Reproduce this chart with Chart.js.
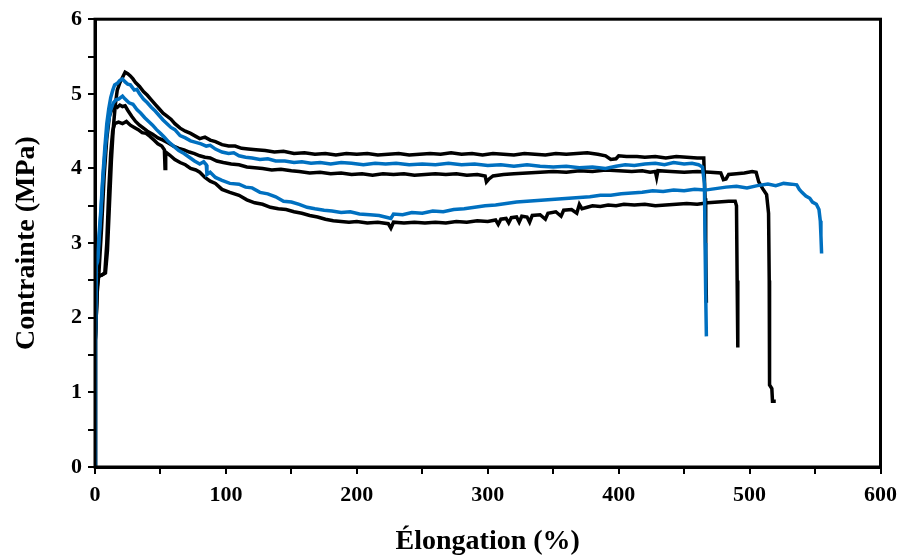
<!DOCTYPE html>
<html>
<head>
<meta charset="utf-8">
<script src="https://cdn.jsdelivr.net/npm/chart.js@4"></script>
<style>
  html, body { margin: 0; padding: 0; background: #fff; }
  #wrap { width: 905px; height: 556px; }
</style>
</head>
<body>
<div id="wrap"><canvas id="courbes" width="905" height="556"></canvas></div>
<script>
// [elongation %, contrainte MPa]
const noirHaut = [[0,0],[0.3,1.7],[2,2.55],[5,2.57],[8,2.6],[9.5,2.9],[11,3.5],[12.5,4.1],[14,4.55],[15.5,4.85],[17,5.05],[19,5.15],[21,5.22],[23,5.29],[25,5.27],[27,5.24],[29,5.2],[31,5.15],[34,5.1],[37,5.03],[40,4.98],[43,4.92],[46,4.86],[49,4.8],[52,4.74],[55,4.7],[58,4.66],[61,4.6],[65,4.54],[69,4.5],[73,4.47],[77,4.43],[80,4.4],[84,4.42],[88,4.38],[92,4.36],[97,4.32],[102,4.3],[107,4.3],[112,4.27],[117,4.26],[123,4.25],[130,4.24],[137,4.22],[144,4.23],[152,4.2],[160,4.21],[168,4.19],[176,4.2],[184,4.18],[192,4.2],[200,4.19],[208,4.2],[216,4.18],[224,4.19],[232,4.2],[240,4.18],[248,4.19],[256,4.2],[264,4.19],[272,4.21],[280,4.19],[288,4.2],[296,4.18],[304,4.2],[312,4.19],[320,4.18],[328,4.2],[336,4.19],[344,4.18],[352,4.2],[360,4.19],[368,4.2],[376,4.21],[384,4.19],[390,4.17],[394,4.12],[398,4.13],[400,4.17],[406,4.16],[414,4.16],[420,4.15],[428,4.16],[436,4.14],[444,4.16],[452,4.15],[460,4.14],[465,4.14],[466,3.6],[466.5,2.9],[467,2.2]];

const noirMilieu = [[0,0],[0.3,1.7],[1.5,2.3],[3,2.6],[5,3.2],[7,3.9],[9,4.4],[11,4.7],[13,4.8],[15,4.84],[17,4.82],[19,4.85],[21,4.83],[23,4.84],[25,4.78],[28,4.7],[31,4.63],[34,4.58],[37,4.54],[40,4.5],[44,4.46],[48,4.41],[52,4.38],[56,4.34],[60,4.3],[64,4.27],[68,4.25],[72,4.22],[76,4.2],[80,4.17],[84,4.15],[88,4.14],[93,4.1],[98,4.08],[104,4.06],[110,4.05],[116,4.02],[122,4.01],[128,4.0],[135,3.98],[142,3.99],[150,3.97],[156,3.96],[164,3.94],[172,3.95],[180,3.93],[188,3.94],[196,3.92],[204,3.93],[212,3.91],[220,3.93],[228,3.92],[236,3.93],[244,3.91],[252,3.92],[260,3.93],[268,3.92],[276,3.93],[284,3.91],[292,3.92],[298,3.9],[299,3.82],[301,3.86],[304,3.9],[312,3.92],[320,3.93],[330,3.94],[340,3.95],[350,3.96],[360,3.95],[370,3.97],[380,3.96],[390,3.98],[400,3.97],[410,3.96],[418,3.97],[424,3.95],[428,3.96],[429,3.88],[430,3.97],[440,3.96],[450,3.95],[460,3.96],[470,3.95],[478,3.94],[480,3.85],[482,3.86],[484,3.92],[490,3.93],[496,3.94],[502,3.96],[505,3.95],[507,3.82],[510,3.73],[513,3.65],[514.5,3.4],[515,2.5],[515,1.6],[515.5,1.1],[517,1.05],[517.5,0.88],[520,0.88]];

const noirBas = [[0,0],[0.3,1.7],[2,2.55],[5,2.57],[7.5,2.6],[9,3.0],[10.5,3.7],[12,4.2],[13.5,4.5],[15,4.6],[18,4.62],[21,4.6],[24,4.63],[27,4.58],[30,4.55],[33,4.52],[36,4.48],[39,4.47],[42,4.43],[45,4.38],[48,4.33],[51,4.3],[53,4.25],[53.5,4.0],[54,4.22],[57,4.18],[61,4.12],[65,4.08],[69,4.05],[73,4.0],[77,3.98],[80,3.95],[84,3.88],[88,3.83],[92,3.8],[97,3.72],[103,3.68],[110,3.64],[116,3.58],[122,3.54],[128,3.52],[134,3.48],[140,3.46],[146,3.45],[152,3.42],[158,3.4],[164,3.37],[170,3.35],[176,3.32],[182,3.3],[188,3.29],[194,3.28],[200,3.29],[208,3.27],[216,3.28],[224,3.26],[226,3.2],[228,3.28],[236,3.27],[244,3.28],[252,3.27],[260,3.28],[268,3.27],[276,3.29],[284,3.28],[292,3.3],[300,3.29],[306,3.31],[308,3.25],[310,3.32],[314,3.33],[316,3.27],[318,3.34],[322,3.35],[324,3.28],[326,3.36],[330,3.35],[332,3.28],[334,3.37],[340,3.38],[344,3.32],[346,3.4],[352,3.42],[356,3.36],[358,3.44],[364,3.45],[368,3.4],[370,3.52],[372,3.46],[376,3.48],[380,3.5],[386,3.49],[392,3.51],[398,3.5],[404,3.52],[412,3.51],[420,3.52],[428,3.5],[436,3.51],[444,3.52],[452,3.53],[460,3.52],[468,3.54],[476,3.55],[484,3.56],[489,3.56],[490,3.5],[490.5,2.5],[491,1.6]];

const bleuHaut = [[0,0],[0.3,1.7],[1,2.77],[2,2.8],[3,3.1],[4.5,3.45],[6,3.9],[7.6,4.3],[9,4.6],[10.5,4.8],[12,4.95],[13.6,5.05],[15,5.12],[17,5.14],[19,5.18],[21,5.2],[23,5.16],[25,5.13],[27,5.12],[30,5.05],[32,5.06],[34,5.0],[37,4.93],[40,4.88],[43,4.82],[46,4.77],[49,4.71],[52,4.65],[55,4.6],[58,4.55],[61,4.52],[65,4.44],[69,4.41],[73,4.37],[77,4.35],[81,4.33],[85,4.3],[88,4.31],[92,4.26],[97,4.22],[102,4.2],[106,4.21],[110,4.17],[115,4.15],[120,4.14],[126,4.12],[132,4.13],[138,4.1],[145,4.1],[152,4.08],[158,4.09],[165,4.07],[172,4.08],[180,4.06],[188,4.08],[196,4.07],[205,4.05],[214,4.07],[222,4.06],[230,4.07],[240,4.05],[250,4.06],[260,4.05],[270,4.07],[280,4.05],[290,4.06],[300,4.04],[310,4.05],[320,4.03],[330,4.05],[340,4.03],[350,4.02],[360,4.03],[370,4.01],[380,4.02],[390,4.0],[398,4.03],[405,4.05],[412,4.04],[420,4.06],[428,4.07],[435,4.05],[442,4.08],[450,4.06],[456,4.07],[461,4.05],[464,4.02],[465.5,3.8],[466,3.0],[466.5,2.3],[467,1.75]];

const bleuBas = [[0,0],[0.3,1.7],[1,2.7],[2,2.75],[3,3.0],[4.5,3.4],[6,3.85],[8,4.3],[10,4.6],[12,4.78],[14,4.88],[16,4.92],[18,4.93],[21,4.97],[23,4.93],[26,4.88],[29,4.86],[32,4.79],[35,4.74],[38,4.68],[41,4.63],[44,4.58],[47,4.52],[50,4.47],[53,4.42],[56,4.36],[60,4.3],[64,4.24],[68,4.2],[72,4.15],[76,4.1],[80,4.06],[83,4.09],[85,4.05],[85.5,3.92],[88,3.95],[92,3.88],[97,3.84],[103,3.8],[110,3.79],[115,3.75],[120,3.74],[126,3.68],[132,3.66],[138,3.62],[144,3.56],[150,3.55],[156,3.52],[162,3.48],[168,3.46],[175,3.44],[181,3.43],[188,3.41],[195,3.42],[202,3.39],[210,3.38],[217,3.37],[224,3.34],[226,3.33],[228,3.39],[235,3.38],[242,3.41],[250,3.4],[258,3.43],[266,3.42],[274,3.45],[282,3.46],[290,3.48],[298,3.5],[306,3.51],[314,3.53],[322,3.55],[330,3.56],[338,3.57],[346,3.58],[354,3.59],[362,3.6],[370,3.61],[378,3.62],[386,3.64],[394,3.64],[402,3.66],[410,3.67],[418,3.68],[426,3.7],[434,3.69],[442,3.71],[450,3.7],[458,3.72],[466,3.71],[474,3.73],[482,3.75],[490,3.76],[498,3.74],[506,3.77],[514,3.79],[520,3.77],[526,3.8],[532,3.79],[536,3.78],[538,3.72],[540,3.68],[543,3.63],[546,3.6],[548,3.55],[551,3.52],[553,3.45],[554,3.3],[554.5,3.1],[555,2.86]];

const NOIR = '#000000';
const BLEU = '#0070C0';

function serie(points, couleur) {
  return {
    data: points.map(p => ({x: p[0], y: p[1]})),
    borderColor: couleur,
    borderWidth: 3.5,
    pointRadius: 0,
    showLine: true,
    fill: false,
    tension: 0
  };
}

// cadre autour de la zone de tracé
const cadre = {
  id: 'cadre',
  afterDraw(chart) {
    const {ctx, chartArea: a} = chart;
    ctx.save();
    ctx.strokeStyle = '#000';
    ctx.lineWidth = 3;
    ctx.strokeRect(a.left, a.top, a.right - a.left, a.bottom - a.top);
    ctx.restore();
  }
};

const police = {family: "'Liberation Serif', 'Times New Roman', serif", weight: 'bold'};

new Chart(document.getElementById('courbes'), {
  type: 'scatter',
  data: {
    datasets: [
      serie(bleuHaut, BLEU),
      serie(bleuBas, BLEU),
      serie(noirHaut, NOIR),
      serie(noirMilieu, NOIR),
      serie(noirBas, NOIR)
    ]
  },
  options: {
    responsive: false,
    animation: false,
    layout: {padding: {top: 12, right: 12, left: 0, bottom: 0}},
    plugins: {legend: {display: false}, tooltip: {enabled: false}},
    scales: {
      x: {
        type: 'linear',
        min: 0, max: 600,
        afterFit(s) { s.height = 89; },
        border: {display: true, color: '#000', width: 3},
        grid: {drawOnChartArea: false, drawTicks: true, tickLength: 7, color: '#000', lineWidth: 2},
        ticks: {
          stepSize: 50,
          padding: 8,
          color: '#000',
          font: {...police, size: 22},
          maxRotation: 0,
          callback: v => (v % 100 === 0 ? v : '')
        },
        title: {display: true, text: 'Élongation (%)', color: '#000', font: {...police, size: 28}, padding: {top: 0, bottom: -3}}
      },
      y: {
        type: 'linear',
        min: 0, max: 6,
        afterFit(s) { s.width = 95; },
        border: {display: true, color: '#000', width: 3},
        grid: {drawOnChartArea: false, drawTicks: true, tickLength: 7, color: '#000', lineWidth: 2},
        ticks: {
          stepSize: 0.5,
          padding: 6,
          color: '#000',
          font: {...police, size: 22},
          callback: v => (Number.isInteger(v) ? v : '')
        },
        title: {display: true, text: 'Contrainte (MPa)', color: '#000', font: {...police, size: 28}, padding: {top: 10, bottom: 0}}
      }
    }
  },
  plugins: [cadre]
});
</script>
</body>
</html>
